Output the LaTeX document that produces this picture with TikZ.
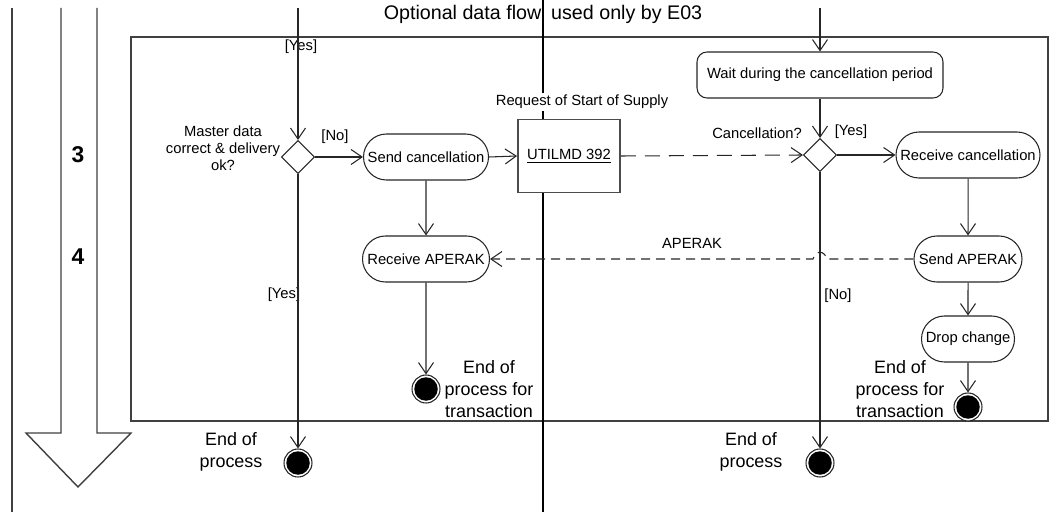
\documentclass[tikz,border=0pt]{standalone}
\usepackage{fontspec}
\setmainfont{Liberation Sans}
\usetikzlibrary{shapes,arrows.meta,positioning}
\newcommand{\smalltxt}{\fontsize{8.4}{9.7}\selectfont}
\newcommand{\bigtxt}{\fontsize{10.2}{12.4}\selectfont}
\tikzset{act/.style={rounded rectangle,draw,fill=white,minimum height=9.2mm,inner sep=1mm,font=\smalltxt}}
\tikzset{waitbox/.style={rectangle,rounded corners=2mm,draw,fill=white,minimum width=49.2mm,minimum height=9.2mm,font=\smalltxt}}
\tikzset{msg/.style={rectangle,draw=black!70,line width=1.1pt,fill=white,minimum width=20.4mm,minimum height=14.6mm,font=\smalltxt}}
\tikzset{decision/.style={diamond,draw,fill=white,minimum width=6.6mm,minimum height=6.6mm,inner sep=0pt}}
\tikzset{endpt/.style={circle,draw,fill=white,minimum size=5.6mm,inner sep=0pt,path picture={\fill[black] (path picture bounding box.center) circle (2.35mm);}}}
\tikzset{lbl/.style={font=\smalltxt,inner sep=1pt}}
\tikzset{endlbl/.style={font=\bigtxt,align=center,inner sep=1pt}}
\tikzset{lane/.style={draw=black!75,line width=0.8pt}}

\begin{document}
\begin{tikzpicture}[x=0.2mm,y=-0.2mm,>={Straight Barb[length=2.2mm,width=3mm]},line width=0.6pt,draw=black!85]
    \useasboundingbox (0,0) rectangle (1061,512);

    % phases
    \draw[lane] (12,8) -- (12,512);
    \draw[lane,fill=white] (61,8) -- (61,433) -- (26,433) -- (78,487) -- (131,433) -- (97,433) -- (97,8);
    \node[font=\fontsize{13}{15}\selectfont\bfseries] (p3) at (78,155) {3};
    \node[font=\fontsize{13}{15}\selectfont\bfseries] (p4) at (78,257) {4};
    \draw[lane] (131,37) rectangle (1048,421);
    \node[font=\fontsize{11.2}{13}\selectfont] (title) at (543,14) {Optional data flow, used only by E03};
    \draw[line width=1pt,black] (543,0) -- (543,512);

    \coordinate (in1) at (298,8);
    \coordinate (in2) at (820,8);

    \node[decision] (d1) at (298,157) {};
    \node[lbl,align=center] (q1) at (223,148) {Master data\\correct \& delivery\\ok?};
    \node[act,minimum width=27mm] (sc) at (426,157) {Send cancellation};
    \node[msg] (m392) at (569,156) {\underline{UTILMD 392}};
    \node[lbl,fill=white] (req) at (582,102) {Request of Start of Supply};
    \node[waitbox] (wt) at (820,75) {Wait during the cancellation period};
    \node[decision] (d2) at (820,155) {};
    \node[lbl] (q2) at (757,133) {Cancellation?};
    \node[act,minimum width=30.8mm] (rc) at (968,155) {Receive cancellation};
    \node[act,minimum width=27.4mm] (rak) at (426,259) {Receive APERAK};
    \node[act,minimum width=23.6mm] (sak) at (968,259) {Send APERAK};
    \node[act,minimum width=20.6mm] (drop) at (968,339) {Drop change};
    \node[endpt] (e1) at (298,463) {};
    \node[endpt] (e2) at (820,463) {};
    \node[endpt] (t1) at (426,389) {};
    \node[endpt] (t2) at (968,407) {};

    \node[lbl] (y1) at (301,47) {[Yes]};
    \node[lbl] (n1) at (335,137) {[No]};
    \node[lbl] (y2) at (284,295) {[Yes]};
    \node[lbl] (y3) at (851,132) {[Yes]};
    \node[lbl] (n2) at (838,296) {[No]};
    \node[lbl] (ap) at (692,243) {APERAK};
    \node[endlbl] (x1) at (231,452) {End of\\process};
    \node[endlbl] (x2) at (751,452) {End of\\process};
    \node[endlbl] (x3) at (489,389) {End of\\process for\\transaction};
    \node[endlbl] (x4) at (900,389) {End of\\process for\\transaction};

    \draw[->] (in1) -- (d1.north);
    \draw[->] (d1.east) -- (sc.west);
    \draw[->] (sc.east) -- (m392.west);
    \draw[->] (sc) -- (rak);
    \draw[->] (rak) -- (t1);
    \draw[->,dash pattern=on 3mm off 1.8mm] (m392.east) -- (d2.west);
    \draw[->] (in2) -- (wt);
    \draw[->] (wt) -- (d2.north);
    \draw[->] (d2.east) -- (rc.west);
    \draw[->] (rc) -- (sak);
    \draw[->] (sak) -- (drop);
    \draw[->] (drop) -- (t2);
    \draw[->] (d1.south) -- (e1);
    \draw[->] (d2.south) -- (e2);
    \draw[->,dash pattern=on 1.8mm off 1.2mm] (sak.west) -- (827,259) .. controls (824,250) and (816,250) .. (813,259) -- (rak.east);
\end{tikzpicture}
\end{document}
